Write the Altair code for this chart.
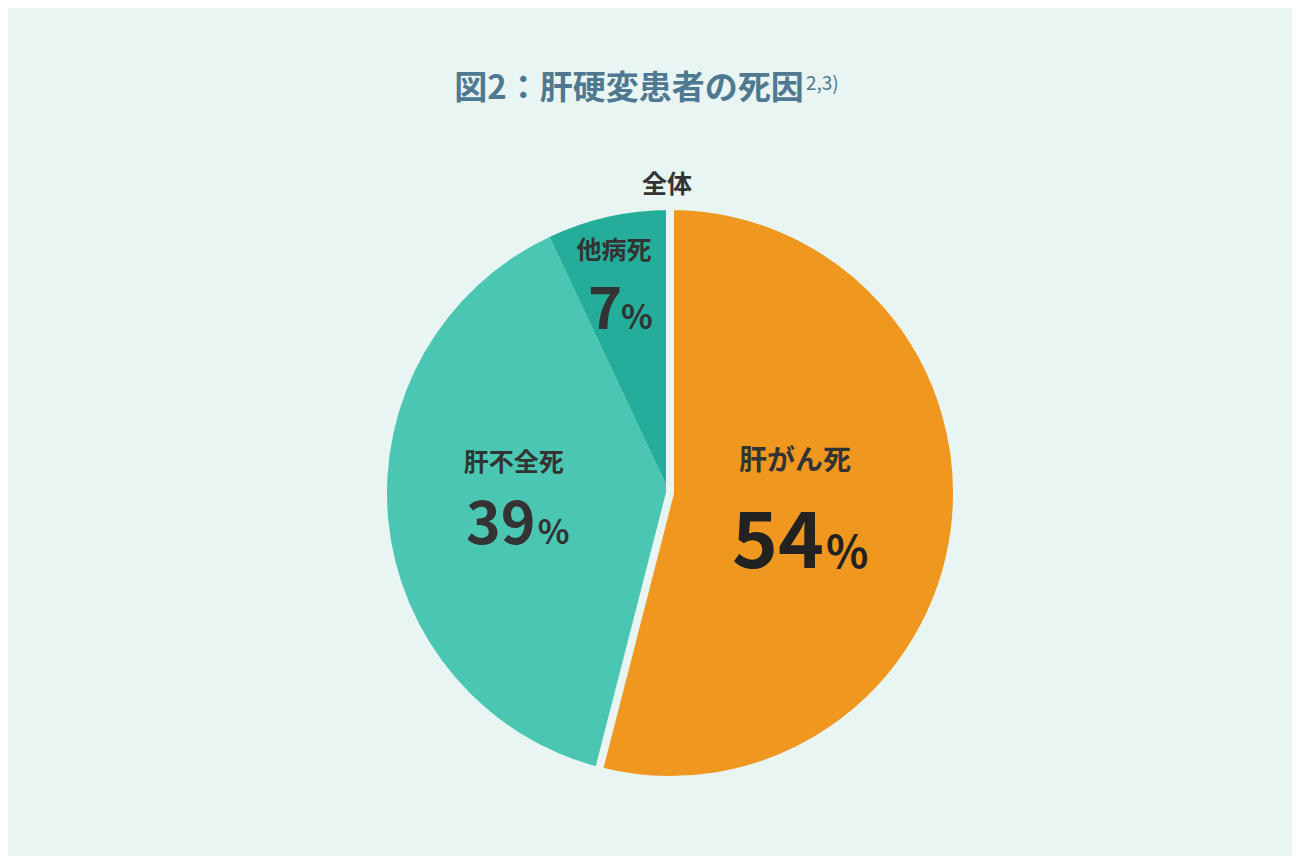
import altair as alt
import pandas as pd

# ---- data ----
causes = ["肝がん死", "肝不全死", "他病死"]
percents = [54, 39, 7]
number_labels = ["54", "39", "7"]
title_text = "図2：肝硬変患者の死因"
title_sup = "2,3)"
subtitle_text = "全体"

df = pd.DataFrame({
    "cause": causes,
    "pct": percents,
    "num": number_labels,
    "idx": list(range(len(causes))),
})

BG = "#e8f5f2"
COLORS = ["#ef971e", "#4bc6b3", "#24ae99"]
FONT = "Noto Sans CJK JP"
CX, CY = 662, 485  # pie centre inside the chart (page offset 8px)

base = alt.Chart(df)
theta_scale = alt.Scale(domain=[0, 100])
color_enc = alt.Color("cause:N", scale=alt.Scale(domain=causes, range=COLORS), legend=None)

pie = base.mark_arc(outerRadius=283).encode(
    theta=alt.Theta("pct:Q", stack=True, scale=theta_scale),
    order=alt.Order("idx:Q"),
    color=color_enc,
    x=alt.value(CX),
    y=alt.value(CY),
)

is_orange = alt.datum.cause == causes[0]
overlay = base.mark_arc(outerRadius=287, stroke=BG).encode(
    theta=alt.Theta("pct:Q", stack=True, scale=theta_scale),
    order=alt.Order("idx:Q"),
    color=color_enc,
    fillOpacity=alt.when(is_orange).then(alt.value(1)).otherwise(alt.value(0)),
    strokeWidth=alt.when(is_orange).then(alt.value(8)).otherwise(alt.value(0)),
    x=alt.value(CX),
    y=alt.value(CY),
)

# label styles per slice: anchor radius, name offset, number offsets, sizes, color
styles = {
    causes[0]: dict(r=129, ndx=-3, ndy=-47, ns=28, vdx=26, pdx=28, vdy=59, vs=78, ps=44, col="#222222"),
    causes[1]: dict(r=155, ndx=-2, ndy=-45, ns=25, vdx=20, pdx=22, vdy=36, vs=59, ps=33, col="#333333"),
    causes[2]: dict(r=247, ndx=-2, ndy=-1, ns=25, vdx=6, pdx=5, vdy=77, vs=58, ps=33, col="#333333"),
}

lab_base = base.transform_window(
    cum="sum(pct)", sort=[alt.SortField("idx")], frame=[None, 0]
).transform_calculate(mid="datum.cum - datum.pct / 2")

layers = [pie, overlay]
for c in causes:
    s = styles[c]
    sub = lab_base.transform_filter(alt.datum.cause == c)
    enc = dict(
        theta=alt.Theta("mid:Q", stack=None, scale=theta_scale),
        x=alt.value(CX),
        y=alt.value(CY),
    )
    layers.append(sub.mark_text(
        radius=s["r"], dx=s["ndx"], dy=s["ndy"], font=FONT, fontWeight="bold",
        fontSize=s["ns"], color="#333333", align="center", baseline="middle",
    ).encode(text="cause:N", **enc))
    layers.append(sub.mark_text(
        radius=s["r"], dx=s["vdx"], dy=s["vdy"], font=FONT, fontWeight="bold",
        fontSize=s["vs"], color=s["col"], align="right", baseline="alphabetic",
    ).encode(text="num:N", **enc))
    layers.append(sub.mark_text(
        radius=s["r"], dx=s["pdx"], dy=s["vdy"], font=FONT, fontWeight="bold",
        fontSize=s["ps"], color=s["col"], align="left", baseline="alphabetic",
    ).encode(text=alt.value("%"), **enc))

title = alt.Chart(pd.DataFrame({"t": [title_text]})).mark_text(
    font=FONT, fontWeight="bold", fontSize=33, color="#4f7891",
    align="center", baseline="middle",
).encode(text="t:N", x=alt.value(621), y=alt.value(81))

sup = alt.Chart(pd.DataFrame({"t": [title_sup]})).mark_text(
    font=FONT, fontWeight="normal", fontSize=19, color="#4f7891",
    align="left", baseline="middle",
).encode(text="t:N", x=alt.value(798), y=alt.value(76))

subt = alt.Chart(pd.DataFrame({"t": [subtitle_text]})).mark_text(
    font=FONT, fontWeight="bold", fontSize=25, color="#333333",
    align="center", baseline="middle",
).encode(text="t:N", x=alt.value(659), y=alt.value(177))

chart = alt.layer(*layers, title, sup, subt).properties(
    width=1284, height=848,
    autosize=alt.AutoSizeParams(type="none"),
    padding=0,
    background=BG,
).configure_view(stroke=None)

chart.save("out.html", embed_options={"renderer": "svg", "actions": False})
